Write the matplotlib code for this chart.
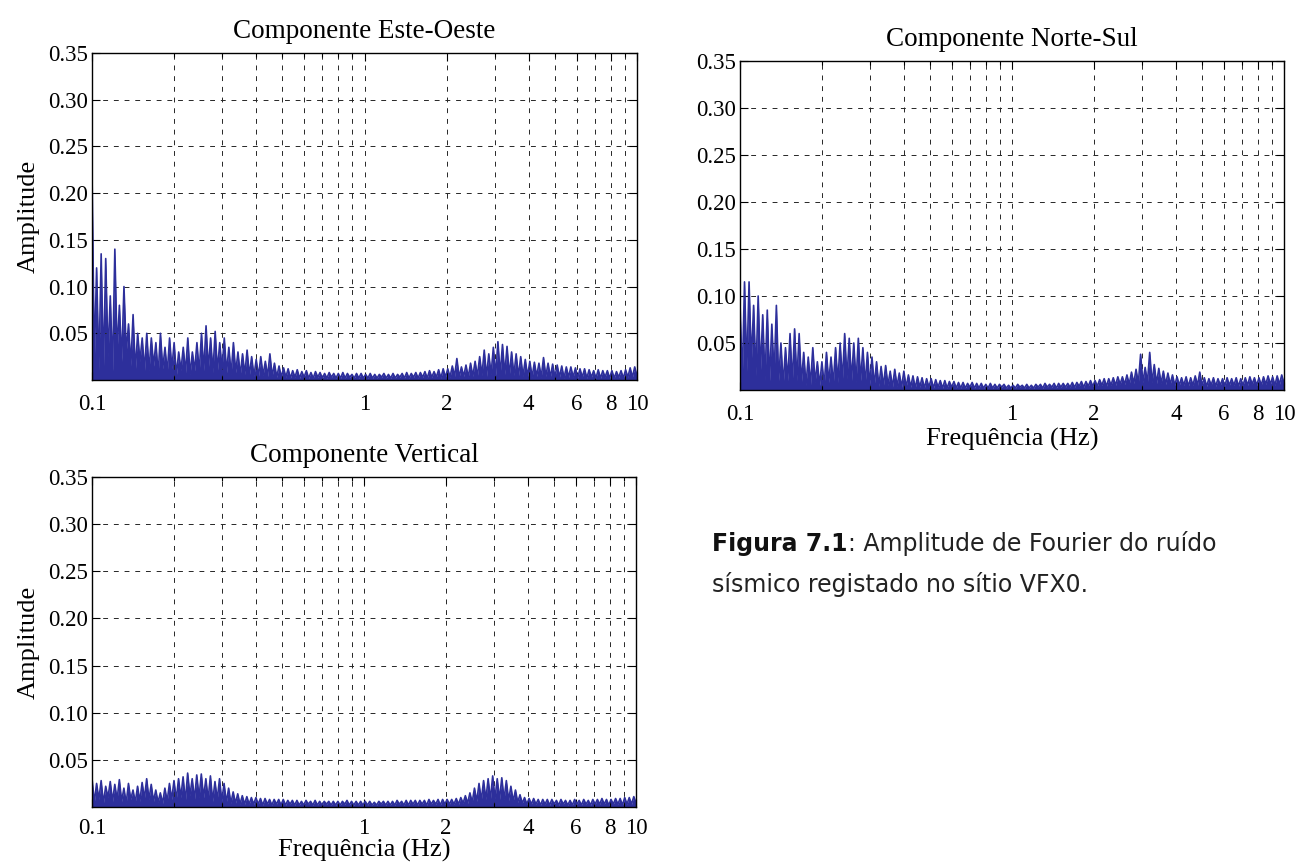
import numpy as np
import matplotlib.pyplot as plt
from matplotlib.ticker import FixedLocator, FixedFormatter

plt.rcParams['font.family'] = ['Liberation Serif', 'DejaVu Serif']

# amplitude peaks / troughs, read block by block (6 per tenth of a decade)
ew_peaks = [
    0.220, 0.120, 0.135, 0.130, 0.090, 0.140,
    0.080, 0.100, 0.060, 0.070, 0.050, 0.045,
    0.050, 0.045, 0.040, 0.050, 0.035, 0.045,
    0.040, 0.030, 0.035, 0.045, 0.030, 0.040,
    0.050, 0.058, 0.045, 0.052, 0.040, 0.045,
    0.035, 0.040, 0.030, 0.028, 0.032, 0.025,
    0.022, 0.025, 0.020, 0.028, 0.018, 0.015,
    0.013, 0.012, 0.010, 0.011, 0.009, 0.010,
    0.008, 0.009, 0.008, 0.007, 0.008, 0.007,
    0.007, 0.008, 0.007, 0.006, 0.007, 0.007,
    0.006, 0.007, 0.006, 0.006, 0.007, 0.006,
    0.007, 0.006, 0.007, 0.008, 0.007, 0.008,
    0.008, 0.009, 0.010, 0.009, 0.011, 0.012,
    0.012, 0.015, 0.023, 0.014, 0.016, 0.018,
    0.020, 0.025, 0.032, 0.028, 0.035, 0.041,
    0.038, 0.036, 0.030, 0.028, 0.025, 0.022,
    0.020, 0.019, 0.018, 0.024, 0.018, 0.017,
    0.016, 0.015, 0.014, 0.014, 0.013, 0.012,
    0.012, 0.011, 0.010, 0.011, 0.010, 0.010,
    0.010, 0.009, 0.010, 0.011, 0.013, 0.014,
]
ew_troughs = [
    0.020, 0.010, 0.012, 0.025, 0.010, 0.030,
    0.020, 0.030, 0.015, 0.010, 0.020, 0.010,
    0.010, 0.015, 0.006, 0.012, 0.008, 0.012,
    0.005, 0.010, 0.008, 0.006, 0.010, 0.008,
    0.010, 0.012, 0.008, 0.010, 0.012, 0.008,
    0.006, 0.008, 0.005, 0.006, 0.005, 0.004,
    0.004, 0.005, 0.004, 0.004, 0.003, 0.003,
    0.003, 0.002, 0.003, 0.002, 0.003, 0.002,
    0.002, 0.003, 0.002, 0.002, 0.003, 0.002,
    0.002, 0.002, 0.003, 0.002, 0.002, 0.002,
    0.002, 0.002, 0.002, 0.003, 0.002, 0.002,
    0.002, 0.003, 0.002, 0.002, 0.003, 0.002,
    0.003, 0.002, 0.003, 0.003, 0.002, 0.003,
    0.003, 0.004, 0.003, 0.004, 0.003, 0.004,
    0.004, 0.005, 0.004, 0.006, 0.005, 0.006,
    0.006, 0.005, 0.005, 0.004, 0.004, 0.004,
    0.003, 0.004, 0.003, 0.004, 0.003, 0.003,
    0.003, 0.002, 0.003, 0.003, 0.002, 0.003,
    0.002, 0.003, 0.002, 0.002, 0.003, 0.002,
    0.002, 0.003, 0.002, 0.003, 0.003, 0.004,
]

ns_peaks = [
    0.095, 0.115, 0.115, 0.090, 0.100, 0.080,
    0.085, 0.070, 0.090, 0.050, 0.045, 0.060,
    0.065, 0.060, 0.040, 0.035, 0.045, 0.030,
    0.030, 0.040, 0.035, 0.045, 0.050, 0.060,
    0.055, 0.050, 0.055, 0.045, 0.040, 0.035,
    0.030, 0.025, 0.026, 0.020, 0.022, 0.018,
    0.020, 0.016, 0.015, 0.014, 0.013, 0.012,
    0.012, 0.011, 0.010, 0.010, 0.009, 0.009,
    0.008, 0.008, 0.007, 0.008, 0.007, 0.007,
    0.006, 0.007, 0.006, 0.006, 0.006, 0.005,
    0.005, 0.006, 0.005, 0.006, 0.005, 0.006,
    0.006, 0.007, 0.006, 0.007, 0.007, 0.007,
    0.007, 0.008, 0.008, 0.009, 0.009, 0.010,
    0.010, 0.011, 0.012, 0.012, 0.013, 0.014,
    0.014, 0.016, 0.019, 0.022, 0.038, 0.024,
    0.040, 0.027, 0.023, 0.020, 0.018, 0.016,
    0.014, 0.013, 0.014, 0.013, 0.015, 0.019,
    0.013, 0.012, 0.013, 0.012, 0.012, 0.013,
    0.012, 0.013, 0.012, 0.013, 0.014, 0.013,
    0.013, 0.014, 0.015, 0.014, 0.015, 0.016,
]
ns_troughs = [
    0.010, 0.020, 0.030, 0.015, 0.020, 0.010,
    0.010, 0.015, 0.010, 0.005, 0.010, 0.008,
    0.010, 0.008, 0.005, 0.006, 0.008, 0.005,
    0.005, 0.008, 0.006, 0.008, 0.010, 0.012,
    0.010, 0.008, 0.010, 0.006, 0.006, 0.005,
    0.004, 0.004, 0.005, 0.003, 0.004, 0.003,
    0.003, 0.003, 0.002, 0.003, 0.002, 0.003,
    0.002, 0.003, 0.002, 0.002, 0.003, 0.002,
    0.002, 0.002, 0.003, 0.002, 0.002, 0.002,
    0.002, 0.002, 0.002, 0.003, 0.002, 0.002,
    0.002, 0.003, 0.002, 0.002, 0.002, 0.003,
    0.002, 0.003, 0.003, 0.002, 0.003, 0.003,
    0.003, 0.003, 0.004, 0.003, 0.004, 0.004,
    0.004, 0.005, 0.004, 0.005, 0.005, 0.006,
    0.006, 0.006, 0.007, 0.007, 0.008, 0.008,
    0.008, 0.007, 0.007, 0.006, 0.006, 0.005,
    0.005, 0.005, 0.004, 0.005, 0.005, 0.005,
    0.004, 0.005, 0.004, 0.005, 0.004, 0.005,
    0.005, 0.004, 0.005, 0.005, 0.006, 0.005,
    0.005, 0.006, 0.006, 0.005, 0.006, 0.007,
]

v_peaks = [
    0.030, 0.025, 0.028, 0.022, 0.027, 0.024,
    0.029, 0.020, 0.025, 0.018, 0.022, 0.026,
    0.030, 0.024, 0.018, 0.015, 0.020, 0.025,
    0.028, 0.030, 0.032, 0.036, 0.030, 0.034,
    0.035, 0.030, 0.033, 0.027, 0.030, 0.025,
    0.020, 0.016, 0.014, 0.012, 0.011, 0.010,
    0.010, 0.009, 0.009, 0.008, 0.008, 0.008,
    0.008, 0.007, 0.007, 0.007, 0.006, 0.007,
    0.006, 0.007, 0.006, 0.006, 0.006, 0.006,
    0.006, 0.006, 0.007, 0.006, 0.006, 0.006,
    0.006, 0.006, 0.005, 0.006, 0.006, 0.006,
    0.006, 0.007, 0.006, 0.007, 0.007, 0.007,
    0.007, 0.007, 0.008, 0.007, 0.008, 0.008,
    0.008, 0.008, 0.009, 0.010, 0.012, 0.015,
    0.020, 0.025, 0.028, 0.030, 0.033, 0.030,
    0.031, 0.028, 0.022, 0.018, 0.013, 0.010,
    0.009, 0.009, 0.008, 0.008, 0.008, 0.008,
    0.007, 0.008, 0.007, 0.007, 0.008, 0.007,
    0.008, 0.007, 0.008, 0.008, 0.009, 0.008,
    0.008, 0.009, 0.009, 0.010, 0.010, 0.011,
]
v_troughs = [
    0.005, 0.008, 0.004, 0.010, 0.006, 0.008,
    0.006, 0.004, 0.008, 0.005, 0.006, 0.009,
    0.008, 0.006, 0.005, 0.004, 0.006, 0.008,
    0.008, 0.010, 0.006, 0.012, 0.008, 0.010,
    0.010, 0.008, 0.006, 0.008, 0.006, 0.005,
    0.004, 0.004, 0.003, 0.003, 0.003, 0.003,
    0.003, 0.002, 0.003, 0.002, 0.003, 0.002,
    0.002, 0.003, 0.002, 0.002, 0.002, 0.003,
    0.002, 0.002, 0.002, 0.003, 0.002, 0.002,
    0.002, 0.003, 0.002, 0.002, 0.002, 0.002,
    0.002, 0.002, 0.002, 0.003, 0.002, 0.002,
    0.002, 0.003, 0.002, 0.002, 0.003, 0.002,
    0.003, 0.002, 0.003, 0.003, 0.002, 0.003,
    0.003, 0.003, 0.003, 0.004, 0.004, 0.005,
    0.006, 0.007, 0.008, 0.008, 0.009, 0.008,
    0.008, 0.007, 0.006, 0.005, 0.004, 0.003,
    0.003, 0.003, 0.002, 0.003, 0.002, 0.003,
    0.002, 0.003, 0.002, 0.002, 0.003, 0.002,
    0.003, 0.002, 0.003, 0.003, 0.003, 0.002,
    0.003, 0.003, 0.002, 0.003, 0.003, 0.004,
]

xticks = [0.1, 1, 2, 4, 6, 8, 10]
xtick_labels = ['0.1', '1', '2', '4', '6', '8', '10']
xminor = [0.2, 0.3, 0.4, 0.5, 0.6, 0.7, 0.8, 0.9, 3, 5, 7, 9]
yticks = [0.05, 0.10, 0.15, 0.20, 0.25, 0.30, 0.35]
ytick_labels = ['0.05', '0.10', '0.15', '0.20', '0.25', '0.30', '0.35']

line_col = '#2d2f9b'


def zigzag(peaks, troughs):
    n = len(peaks)
    f = np.geomspace(0.1, 10, 2 * n)
    a = np.empty(2 * n)
    a[0::2] = peaks
    a[1::2] = troughs
    return f, a


def spectrum(ax, peaks, troughs, title, xlabel=None, ylabel=False, xpad=10):
    f, a = zigzag(peaks, troughs)
    ax.fill_between(f, 0, a, color=line_col, lw=0)
    ax.plot(f, a, color=line_col, lw=1.2)
    ax.set_xscale('log')
    ax.set_xlim(0.1, 10)
    ax.set_ylim(0, 0.35)
    ax.xaxis.set_major_locator(FixedLocator(xticks))
    ax.xaxis.set_major_formatter(FixedFormatter(xtick_labels))
    ax.xaxis.set_minor_locator(FixedLocator(xminor))
    ax.yaxis.set_major_locator(FixedLocator(yticks))
    ax.yaxis.set_major_formatter(FixedFormatter(ytick_labels))
    ax.tick_params(which='both', direction='in', top=True, right=True,
                   labelsize=16.5, width=0.8, color='k')
    ax.tick_params(which='major', length=6)
    ax.tick_params(which='minor', length=3)
    ax.tick_params(axis='x', pad=xpad)
    ax.tick_params(axis='y', pad=3)
    ax.grid(True, which='major', ls=(0, (5, 6)), color='0.15', lw=0.7)
    ax.xaxis.grid(True, which='minor', ls=(0, (5, 6)), color='0.15', lw=0.7)
    for s in ax.spines.values():
        s.set_linewidth(1.0)
    ax.set_title(title, fontsize=19.5, pad=11)
    if xlabel is not None:
        ax.set_xlabel('Frequência (Hz)', fontsize=19, labelpad=xlabel)
    if ylabel:
        ax.set_ylabel('Amplitude', fontsize=19, labelpad=6)


fig = plt.figure(figsize=(13, 8.67), dpi=100)
ax_ew = fig.add_axes([0.0708, 0.5617, 0.4192, 0.3772])
ax_ns = fig.add_axes([0.5692, 0.5502, 0.4185, 0.3795])
ax_v = fig.add_axes([0.0708, 0.0692, 0.4185, 0.3806])

spectrum(ax_ew, ew_peaks, ew_troughs, 'Componente Este-Oeste', ylabel=True)
spectrum(ax_ns, ns_peaks, ns_troughs, 'Componente Norte-Sul', xlabel=2)
spectrum(ax_v, v_peaks, v_troughs, 'Componente Vertical', xlabel=0,
         ylabel=True, xpad=8)

# caption with bold prefix
cap_x = 712 / 1300
t1 = fig.text(cap_x, 1 - 551 / 867, 'Figura 7.1', family='DejaVu Sans',
              fontsize=17, fontweight='bold', color='#111111', va='baseline')
fig.canvas.draw()
bb = t1.get_window_extent(fig.canvas.get_renderer())
fig.text(bb.x1 / fig.bbox.width, 1 - 551 / 867,
         ': Amplitude de Fourier do ruído', family='DejaVu Sans',
         fontsize=17, color='#222222', va='baseline')
fig.text(cap_x, 1 - 592 / 867, 'sísmico registado no sítio VFX0.',
         family='DejaVu Sans', fontsize=17, color='#222222', va='baseline')

fig.savefig('out.png', dpi=100)
